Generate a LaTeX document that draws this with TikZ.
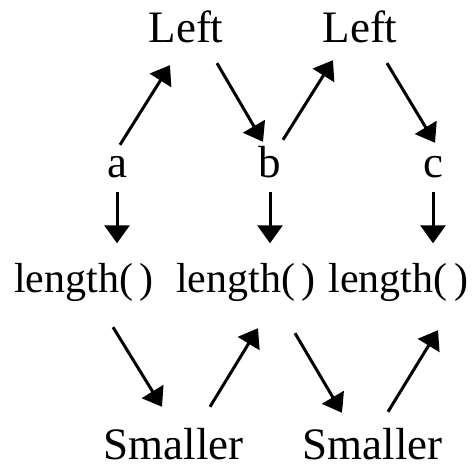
\documentclass[tikz,border=0pt]{standalone}
\usepackage{fontspec}
\setmainfont{Liberation Serif}
\usetikzlibrary{arrows.meta}
\tikzset{
  word/.style={font=\fontsize{45}{54}\selectfont, inner sep=0pt, anchor=base,
    text height=31.5pt, text depth=11.25pt},
  call/.style={word, font=\fontsize{42}{50}\selectfont},
  arr/.style={line width=3pt, -{Triangle[length=18pt,width=25pt]}}
}
\begin{document}
\begin{tikzpicture}[x=1pt,y=1pt]
    \useasboundingbox (0,0) rectangle (474,470);
        \node[word] (left1) at (186,427) {Left};
        \node[word] (left2) at (360,427) {Left};
        \node[word] (a) at (117,292) {a};
        \node[word] (b) at (270,292) {b};
        \node[word] (c) at (433,292) {c};
        \node[call] (len1) at (84,177) {length(\,)};
        \node[call] (len2) at (246,177) {length(\,)};
        \node[call] (len3) at (398.5,177) {length(\,)};
        \node[word] (sm1) at (173.5,10) {Smaller};
        \node[word] (sm2) at (372.5,10) {Smaller};
        % top row
        \draw[arr] ([shift={(3,1.5)}]a.north) -- ([shift={(-16,-10.75)}]left1.south);
        \draw[arr] ([shift={(31,-8.75)}]left1.south) -- ([shift={(-7,4.5)}]b.north);
        \draw[arr] ([shift={(13,6.5)}]b.north) -- ([shift={(-27,-5.75)}]left2.south);
        \draw[arr] ([shift={(27,-8.75)}]left2.south) -- ([shift={(2,3.5)}]c.north);
        % down to length
        \foreach \n in {a,b,c}{
            \draw[arr] ([yshift=-3pt]\n.south) -- ([yshift=18pt]\n |- len1.north);
        }
        % bottom row
        \draw[arr] ([shift={(29,-22.75)}]len1.south) -- ([shift={(-11.5,21.5)}]sm1.north);
        \draw[arr] ([shift={(36.5,21.5)}]sm1.north) -- ([shift={(12,-23.75)}]len2.south);
        \draw[arr] ([shift={(49,-28.75)}]len2.south) -- ([shift={(-30.5,15.5)}]sm2.north);
        \draw[arr] ([shift={(15.5,16.5)}]sm2.north) -- ([shift={(39.5,-25.75)}]len3.south);
\end{tikzpicture}
\end{document}
